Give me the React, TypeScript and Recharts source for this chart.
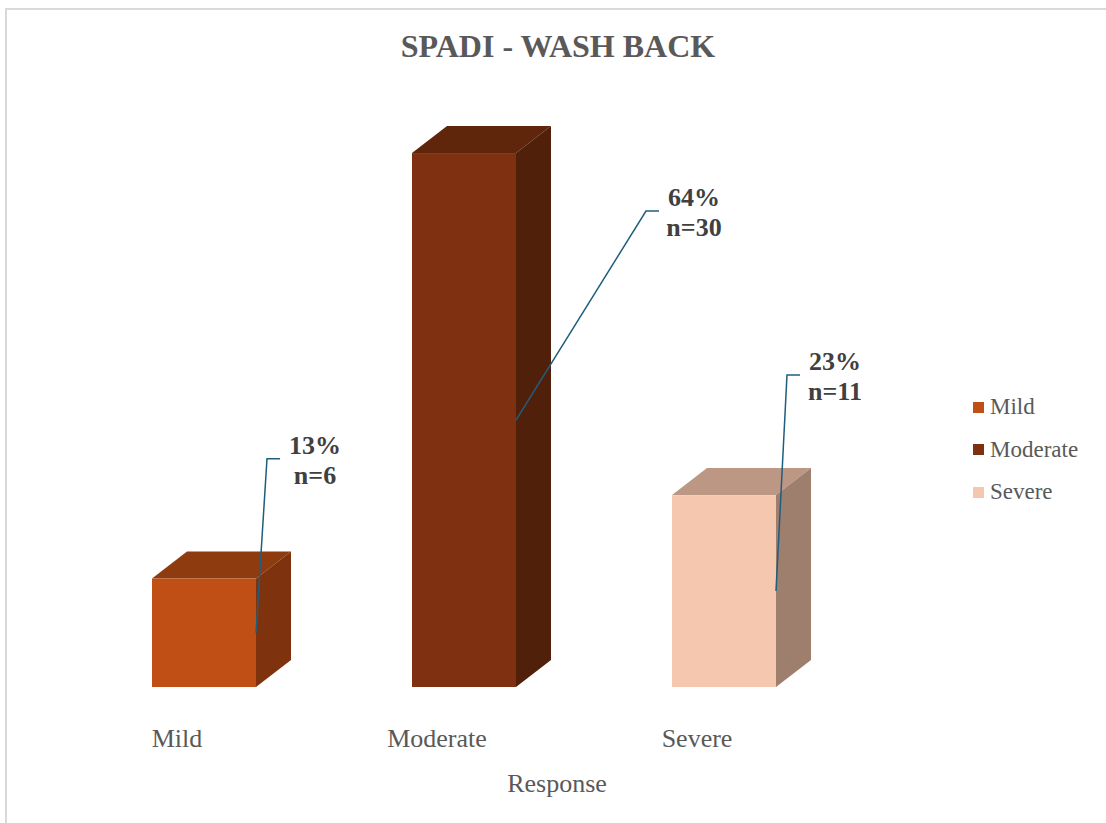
import { BarChart, Bar, XAxis, YAxis, LabelList } from "recharts";

const categories = ["Mild", "Moderate", "Severe"];
const percents = [13, 64, 23];
const counts = [6, 30, 11];

// front face, top face and side face of each box
const faceColors = ["#C04F15", "#7F3010", "#F5C7AE"];
const topColors = ["#8F3B10", "#60260B", "#BC9783"];
const sideColors = ["#7E330E", "#51200A", "#9E7F6E"];

// where each leader line bends, measured from the middle of the bar's right edge
const leaderOffsets = [
  { dx: 11, dy: -174 },
  { dx: 130, dy: -209 },
  { dx: 11, dy: -216 },
];

const data = categories.map((name, i) => ({
  name,
  pct: percents[i],
  n: counts[i],
}));

const FONT = '"Liberation Serif", "Times New Roman", serif';
const DEPTH_X = 35;
const DEPTH_Y = 27;

function Box3D(props: any) {
  const { x, y, width, height, index } = props;
  const r = x + width;
  return (
    <g>
      <polygon
        points={`${x},${y} ${x + DEPTH_X},${y - DEPTH_Y} ${r + DEPTH_X},${y - DEPTH_Y} ${r},${y}`}
        fill={topColors[index]}
      />
      <polygon
        points={`${r},${y} ${r + DEPTH_X},${y - DEPTH_Y} ${r + DEPTH_X},${y + height - DEPTH_Y} ${r},${y + height}`}
        fill={sideColors[index]}
      />
      <rect x={x} y={y} width={width} height={height} fill={faceColors[index]} />
    </g>
  );
}

function Callout(props: any) {
  const { x, y, width, height, value, index } = props;
  const ax = x + width;
  const ay = y + height / 2;
  const { dx, dy } = leaderOffsets[index];
  const ex = ax + dx;
  const ey = ay + dy;
  const textStyle = {
    fontFamily: FONT,
    fontSize: 26,
    fontWeight: 700,
    fill: "#404040",
  };
  return (
    <g>
      <polyline
        points={`${ax},${ay} ${ex},${ey} ${ex + 13},${ey}`}
        fill="none"
        stroke="#1F5E7E"
        strokeWidth={1.5}
      />
      <text x={ex + 48} y={ey - 5} textAnchor="middle" style={textStyle}>
        {value}%
      </text>
      <text x={ex + 48} y={ey + 25} textAnchor="middle" style={textStyle}>
        n={counts[index]}
      </text>
    </g>
  );
}

function CategoryTick(props: any) {
  const { x, y, payload } = props;
  return (
    <text
      x={x - 27}
      y={y + 60}
      textAnchor="middle"
      style={{ fontFamily: FONT, fontSize: 26, fill: "#595959" }}
    >
      {payload.value}
    </text>
  );
}

export default function App() {
  return (
    <div
      style={{
        position: "absolute",
        left: 0,
        top: 0,
        width: 1106,
        height: 823,
        overflow: "hidden",
        background: "#fff",
      }}
    >
      {/* chart frame, only its top and left edges fall on the page */}
      <div
        style={{
          position: "absolute",
          left: 5,
          top: 8,
          width: 1200,
          height: 900,
          borderLeft: "2px solid #D9D9D9",
          borderTop: "2px solid #D9D9D9",
        }}
      />
      <div style={{ position: "absolute", left: 0, top: 0 }}>
        <BarChart
          width={1106}
          height={823}
          data={data}
          margin={{ top: 103, right: 252, bottom: 106, left: 74 }}
          barCategoryGap="30%"
        >
          <XAxis
            dataKey="name"
            height={30}
            axisLine={false}
            tickLine={false}
            tickSize={0}
            tickMargin={0}
            tick={<CategoryTick />}
            interval={0}
          />
          <YAxis hide domain={[0, 70]} />
          <Bar
            dataKey="pct"
            shape={<Box3D />}
            isAnimationActive={false}
          >
            <LabelList dataKey="pct" content={<Callout />} />
          </Bar>
        </BarChart>
      </div>
      <svg
        width={1106}
        height={823}
        style={{ position: "absolute", left: 0, top: 0, pointerEvents: "none" }}
      >
        <text
          x={558}
          y={57}
          textAnchor="middle"
          style={{ fontFamily: FONT, fontSize: 32, fontWeight: 700, fill: "#595959" }}
        >
          SPADI - WASH BACK
        </text>
        <text
          x={557}
          y={792}
          textAnchor="middle"
          style={{ fontFamily: FONT, fontSize: 26, fill: "#595959" }}
        >
          Response
        </text>
      </svg>
      {/* legend */}
      <div style={{ position: "absolute", left: 973, top: 386 }}>
        {categories.map((name, i) => (
          <div
            key={name}
            style={{
              display: "flex",
              alignItems: "center",
              height: 42.5,
              fontFamily: FONT,
              fontSize: 23,
              color: "#595959",
            }}
          >
            <span
              style={{
                display: "inline-block",
                width: 11,
                height: 11,
                background: faceColors[i],
                marginRight: 6,
              }}
            />
            {name}
          </div>
        ))}
      </div>
    </div>
  );
}
